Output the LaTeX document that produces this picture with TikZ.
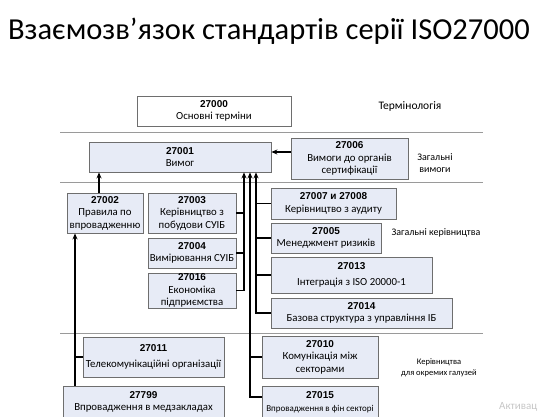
\documentclass[tikz,border=0pt]{standalone}
\usepackage{fontspec}
\setmainfont{Carlito}
\newfontfamily\numfont{Liberation Sans}
\usetikzlibrary{arrows.meta}
\definecolor{boxfill}{HTML}{E7EBF6}
\definecolor{boxline}{HTML}{6E6E6E}
\definecolor{sepgray}{HTML}{9A9A9A}
\newcommand{\stdno}[1]{{\numfont\bfseries\fontsize{10}{11.5}\selectfont #1}}

\begin{document}
\begin{tikzpicture}[x=1pt, y=-1pt]
  \tikzset{stdbox/.style={draw=boxline, fill=boxfill, line width=0.8pt, align=center, inner sep=0pt, font=\fontsize{10.8}{12.5}\selectfont},
           sidelabel/.style={align=center, font=\fontsize{10}{12.5}\selectfont},
           conn/.style={line width=1.4pt, black},
           arr/.style={conn, -{Stealth[length=6pt, width=5pt]}},
           sepline/.style={sepgray, line width=0.9pt}}
  \useasboundingbox (0,0) rectangle (538,416);

  % Title
  \node[font=\fontsize{30.5}{34}\selectfont] (title) at (269,31) {Взаємозв’язок стандартів серії ISO27000};

  % Separators
  \draw[sepline] (60,132) -- (483,132);
  \draw[sepline] (60,182) -- (483,182);
  \draw[sepline] (60,333) -- (483,333);

  % Terms and requirements
  \node[stdbox, fill=white, minimum width=154pt, minimum height=30pt] (s27000) at (214,111) {\stdno{27000}\\Основні терміни};
  \node[stdbox, minimum width=182pt, minimum height=30pt] (s27001) at (180,157) {\stdno{27001}\\Вимог};
  \node[stdbox, minimum width=117pt, minimum height=41pt] (s27006) at (349.5,158.5) {\stdno{27006}\\Вимоги до органів\\сертифікації};
  \node[sidelabel, font=\fontsize{11.5}{13}\selectfont] (lterm) at (410,106) {Термінологія};
  \node[sidelabel] (lreq) at (435,163) {Загальні\\вимоги};

  % General guidelines
  \node[stdbox, minimum width=76pt, minimum height=40pt] (s27002) at (105,213) {\stdno{27002}\\Правила по\\впровадженню};
  \node[stdbox, minimum width=88pt, minimum height=40pt] (s27003) at (192,213) {\stdno{27003}\\Керівництво з\\побудови СУІБ};
  \node[stdbox, minimum width=88pt, minimum height=30pt] (s27004) at (192,253) {\stdno{27004}\\Вимірювання СУІБ};
  \node[stdbox, minimum width=88pt, minimum height=35pt] (s27016) at (192,290.5) {\stdno{27016}\\Економіка\\підприємства};
  \node[stdbox, minimum width=125pt, minimum height=31pt] (s27007) at (333.5,203.5) {\stdno{27007 и 27008}\\Керівництво з аудиту};
  \node[stdbox, minimum width=110pt, minimum height=30pt] (s27005) at (326,238) {\stdno{27005}\\Менеджмент ризиків};
  \node[stdbox, minimum width=161pt, minimum height=36pt] (s27013) at (351.5,275) {\stdno{27013}\\[3pt]Інтеграція з ISO 20000-1};
  \node[stdbox, minimum width=181pt, minimum height=30pt] (s27014) at (361.5,313) {\stdno{27014}\\Базова структура з управління ІБ};
  \node[sidelabel] (lguide) at (436,233) {Загальні керівництва};

  % Sector guidelines
  \node[stdbox, minimum width=141pt, minimum height=40pt] (s27011) at (153.5,357) {\stdno{27011}\\[3pt]Телекомунікаційні організації};
  \node[stdbox, minimum width=161pt, minimum height=32pt] (s27799) at (143.5,402) {\stdno{27799}\\Впровадження в медзакладах};
  \node[stdbox, minimum width=116pt, minimum height=42pt] (s27010) at (320,357) {\stdno{27010}\\Комунікація між\\секторами};
  \node[stdbox, minimum width=116pt, minimum height=32pt] (s27015) at (320,402) {\stdno{27015}\\{\fontsize{9}{10.5}\selectfont Впровадження в фін секторі}};
  \node[sidelabel, font=\fontsize{8.5}{11}\selectfont] (lsector) at (439,368) {Керівництва\\для окремих галузей};
  \node[anchor=east, inner sep=0pt, text=gray!45, font=\fontsize{11}{12}\selectfont] (wm) at (537.5,407) {Активац};

  % Connectors
  \coordinate (jl) at (75,0); \coordinate (ja) at (244,0); \coordinate (jb) at (250,0); \coordinate (jc) at (256,0);
  \draw[arr] ([yshift=6.5pt]s27006.west) -- ([yshift=6.5pt]s27006.west -| s27001.east);
  \draw[arr] ([xshift=-6pt]s27002.north) -- ([xshift=-6pt]s27002.north |- s27001.south);
  \draw[arr] (s27799.north -| jl) -- (s27002.south -| jl);
  \draw[conn] (s27011.west) -- (s27011.west -| jl);
  \foreach \s in {s27003, s27004} \draw[conn] (\s.east) -- (\s.east -| ja);
  \draw[arr] (s27016.east) -| (s27001.south -| ja);
  \foreach \s in {s27007, s27005, s27013} \draw[conn] (\s.west) -- (\s.west -| jc);
  \draw[arr] (s27014.west) -| (s27001.south -| jc);
  \draw[conn] (s27010.west) -- (s27010.west -| jb);
  \draw[arr] ([yshift=5pt]s27015.west) -| (s27001.south -| jb);
\end{tikzpicture}
\end{document}
